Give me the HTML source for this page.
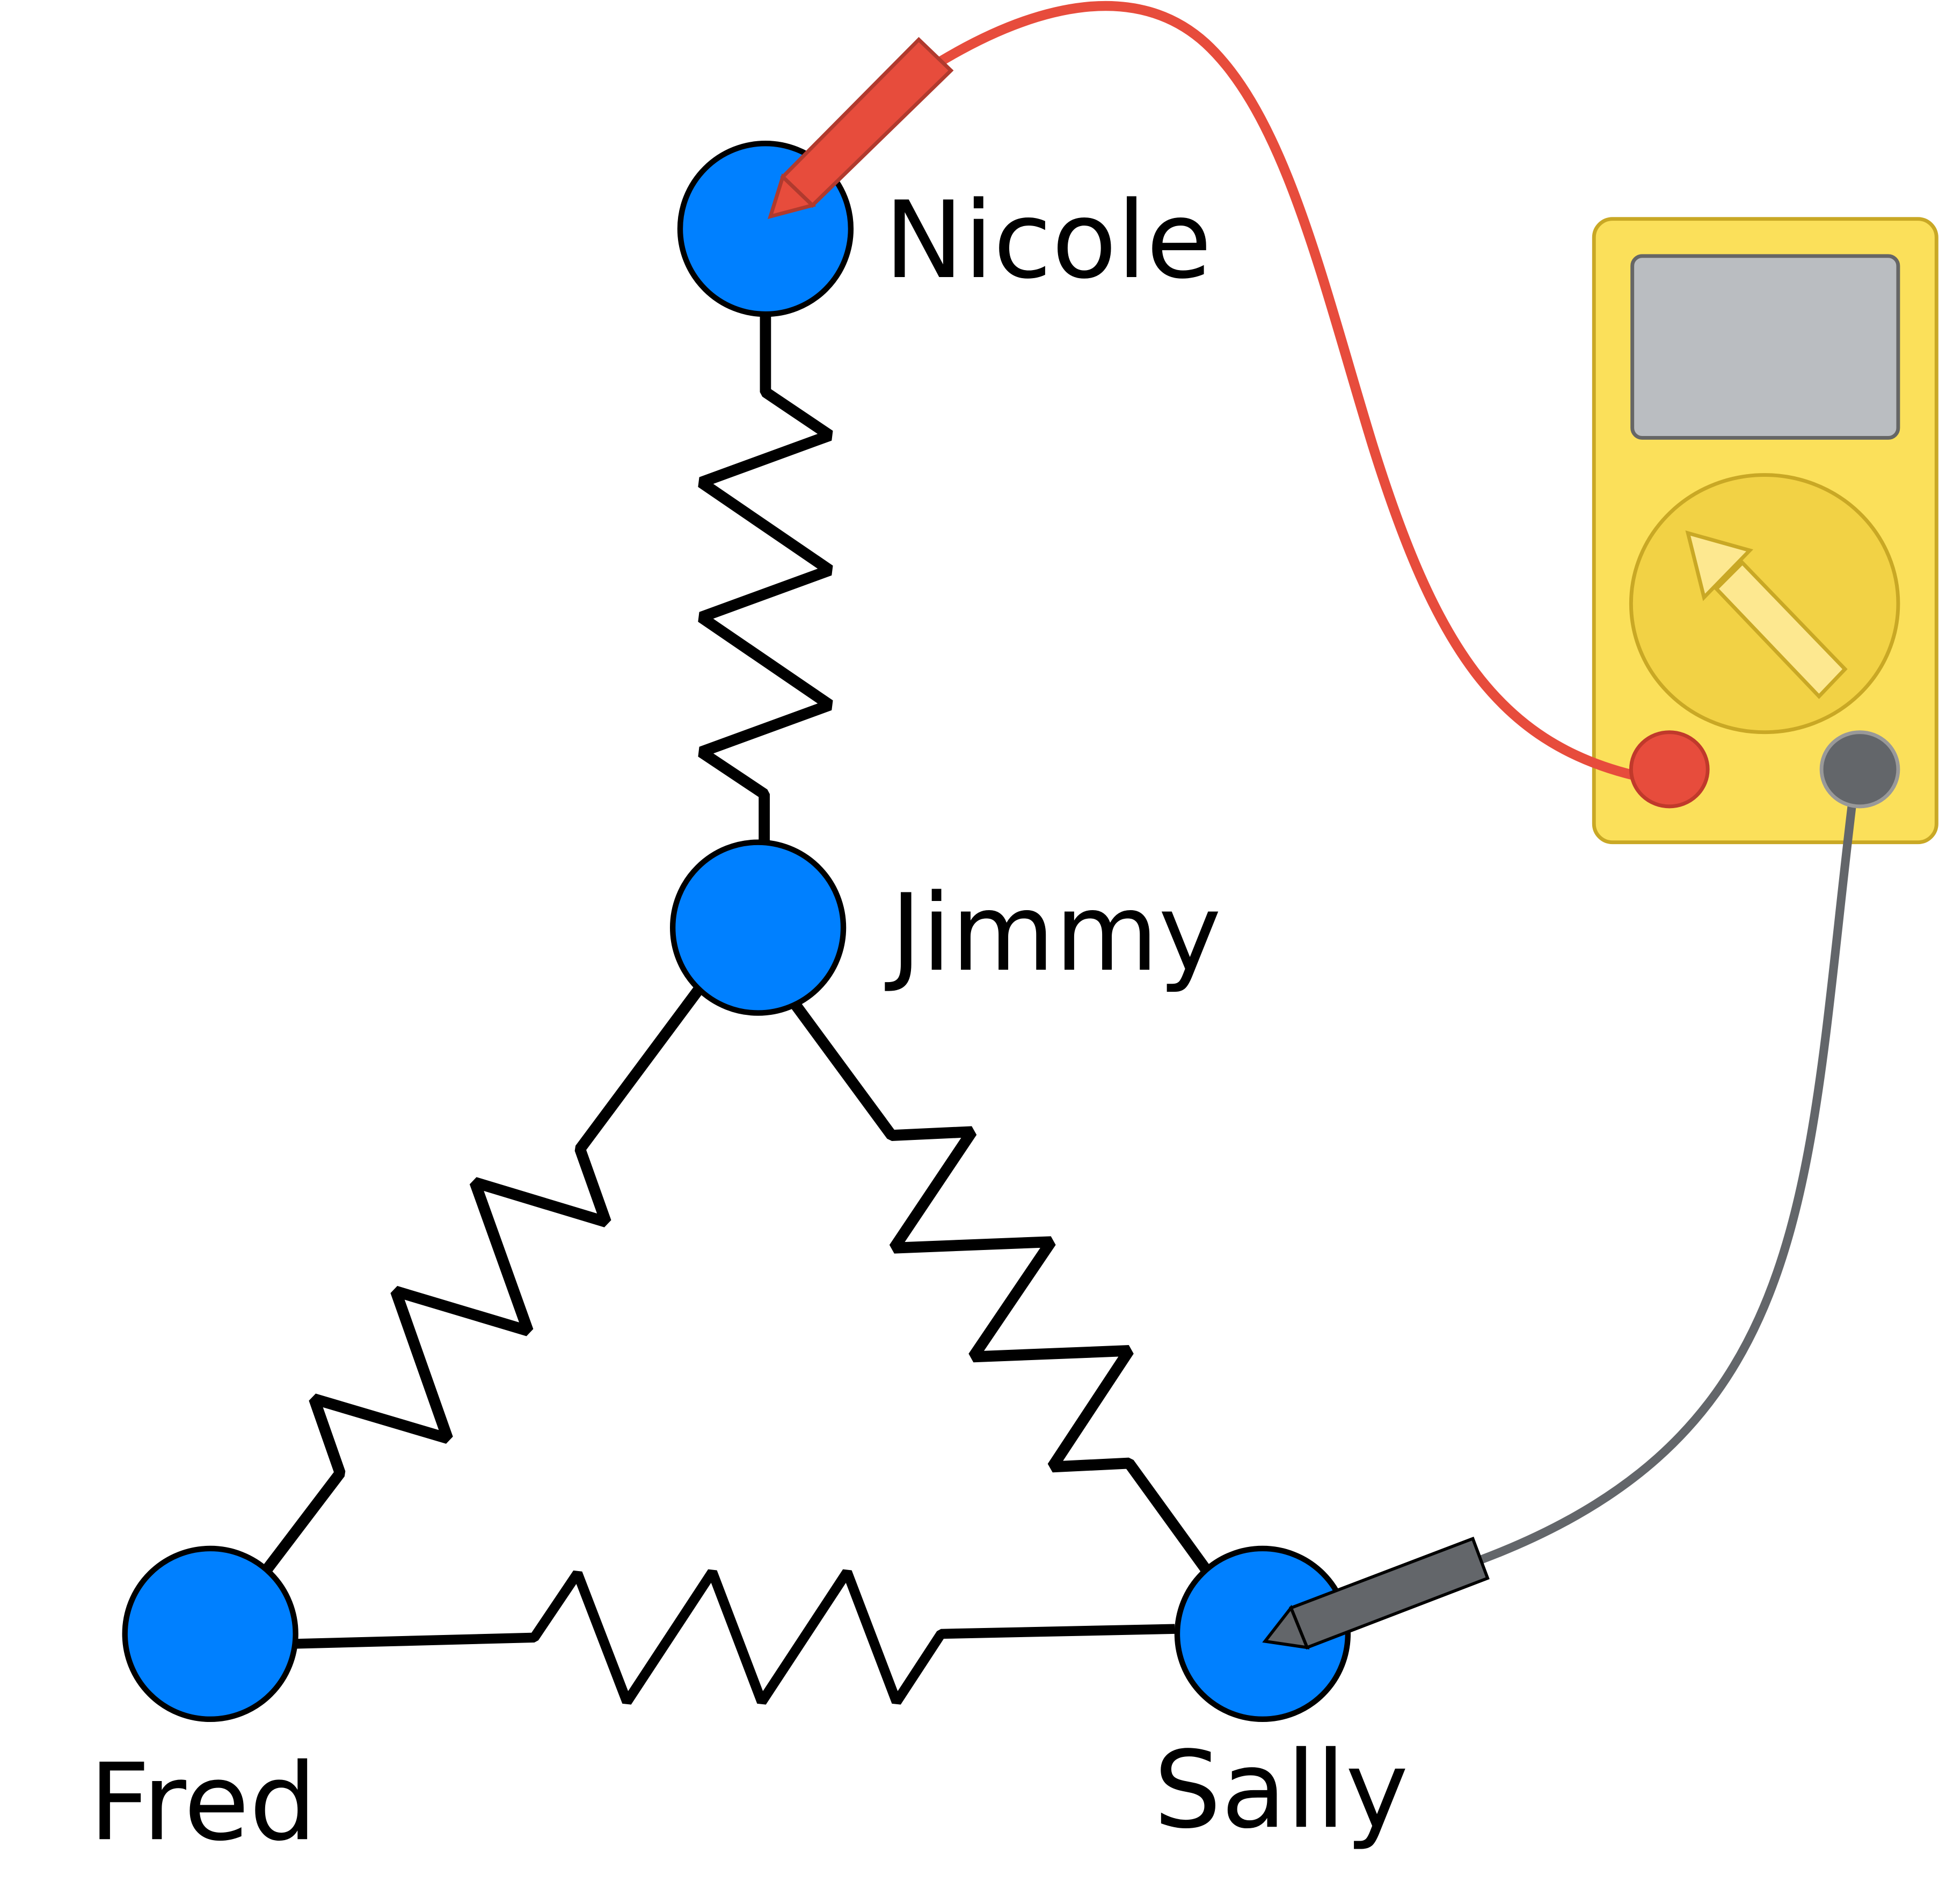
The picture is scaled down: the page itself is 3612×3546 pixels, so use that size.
<!DOCTYPE html>
<html><head><meta charset="utf-8"><style>
html,body{margin:0;padding:0;background:#fff;}
svg{display:block;}
text{font-family:"DejaVu Sans","Liberation Sans",sans-serif;font-size:86px;fill:#000;}
</style></head><body>
<svg width="3612" height="3546" viewBox="0 0 1568 1539.4" xmlns="http://www.w3.org/2000/svg">
<g fill="none" stroke="#000" stroke-width="9" stroke-linejoin="bevel">
<polyline points="619,254 619,317 671,352 567,390 671,461 567,499 671,570 567,608 618,642 618,682"/>
<polyline points="565,800 469,929 490,988 384,956 427,1076 320,1044 362,1163 254,1131 275,1191 215,1270"/>
<polyline points="643,812 721,918 786,915 723,1009 850,1004 787,1097 913,1092 851,1186 913,1183 976,1270"/>
<polyline stroke-width="8" points="240,1329 432,1324 467,1272 507,1376 576,1271 616,1376 685,1271 725,1376 761,1321 950,1317"/>
</g>
<g fill="#0080ff" stroke="#000" stroke-width="4.5">
<circle cx="619" cy="185" r="69"/>
<circle cx="613" cy="750" r="69"/>
<circle cx="170" cy="1321" r="69"/>
<circle cx="1021" cy="1321" r="69"/>
</g>
<text x="715" y="224">Nicole</text>
<text x="720" y="784">Jimmy</text>
<text x="72" y="1487">Fred</text>
<text x="933" y="1477">Sally</text>
<rect x="1289" y="177" width="277" height="504" rx="15" fill="#fbe05a" stroke="#c9a825" stroke-width="3"/>
<rect x="1320" y="207" width="215" height="147" rx="8" fill="#babdc1" stroke="#666" stroke-width="3"/>
<ellipse cx="1427" cy="488" rx="108" ry="104" fill="#f2d245" stroke="#c9a825" stroke-width="3"/>
<polygon points="1492,541 1471,563 1388,476 1409,455" fill="#fde890" stroke="#c9a825" stroke-width="3"/>
<polygon points="1365,431 1415,445 1378,483" fill="#fde890" stroke="#c9a825" stroke-width="3"/>
<path d="M760,50 C840,2 920,-15 975,35 C1040,95 1070,230 1110,360 C1160,520 1210,600 1322,627" fill="none" stroke="#e74c3c" stroke-width="8"/>
<path d="M1498,648 C1460,960 1470,1160 1195,1262" fill="none" stroke="#63666a" stroke-width="7"/>
<ellipse cx="1350" cy="622" rx="31" ry="30" fill="#e74c3c" stroke="#c0392b" stroke-width="3"/>
<ellipse cx="1504" cy="622" rx="31" ry="30" fill="#63666a" stroke="#999" stroke-width="3"/>
<polygon points="743,32 769,57 657,166 633,143" fill="#e74c3c" stroke="#b03a2e" stroke-width="3"/>
<polygon points="633,143 657,166 623,175" fill="#e74c3c" stroke="#b03a2e" stroke-width="3"/>
<polygon points="1191,1244 1203,1276 1057,1332 1044,1300" fill="#63666a" stroke="#000" stroke-width="2.5"/>
<polygon points="1044,1300 1057,1332 1023,1327" fill="#63666a" stroke="#000" stroke-width="2.5"/>
</svg>
</body></html>
